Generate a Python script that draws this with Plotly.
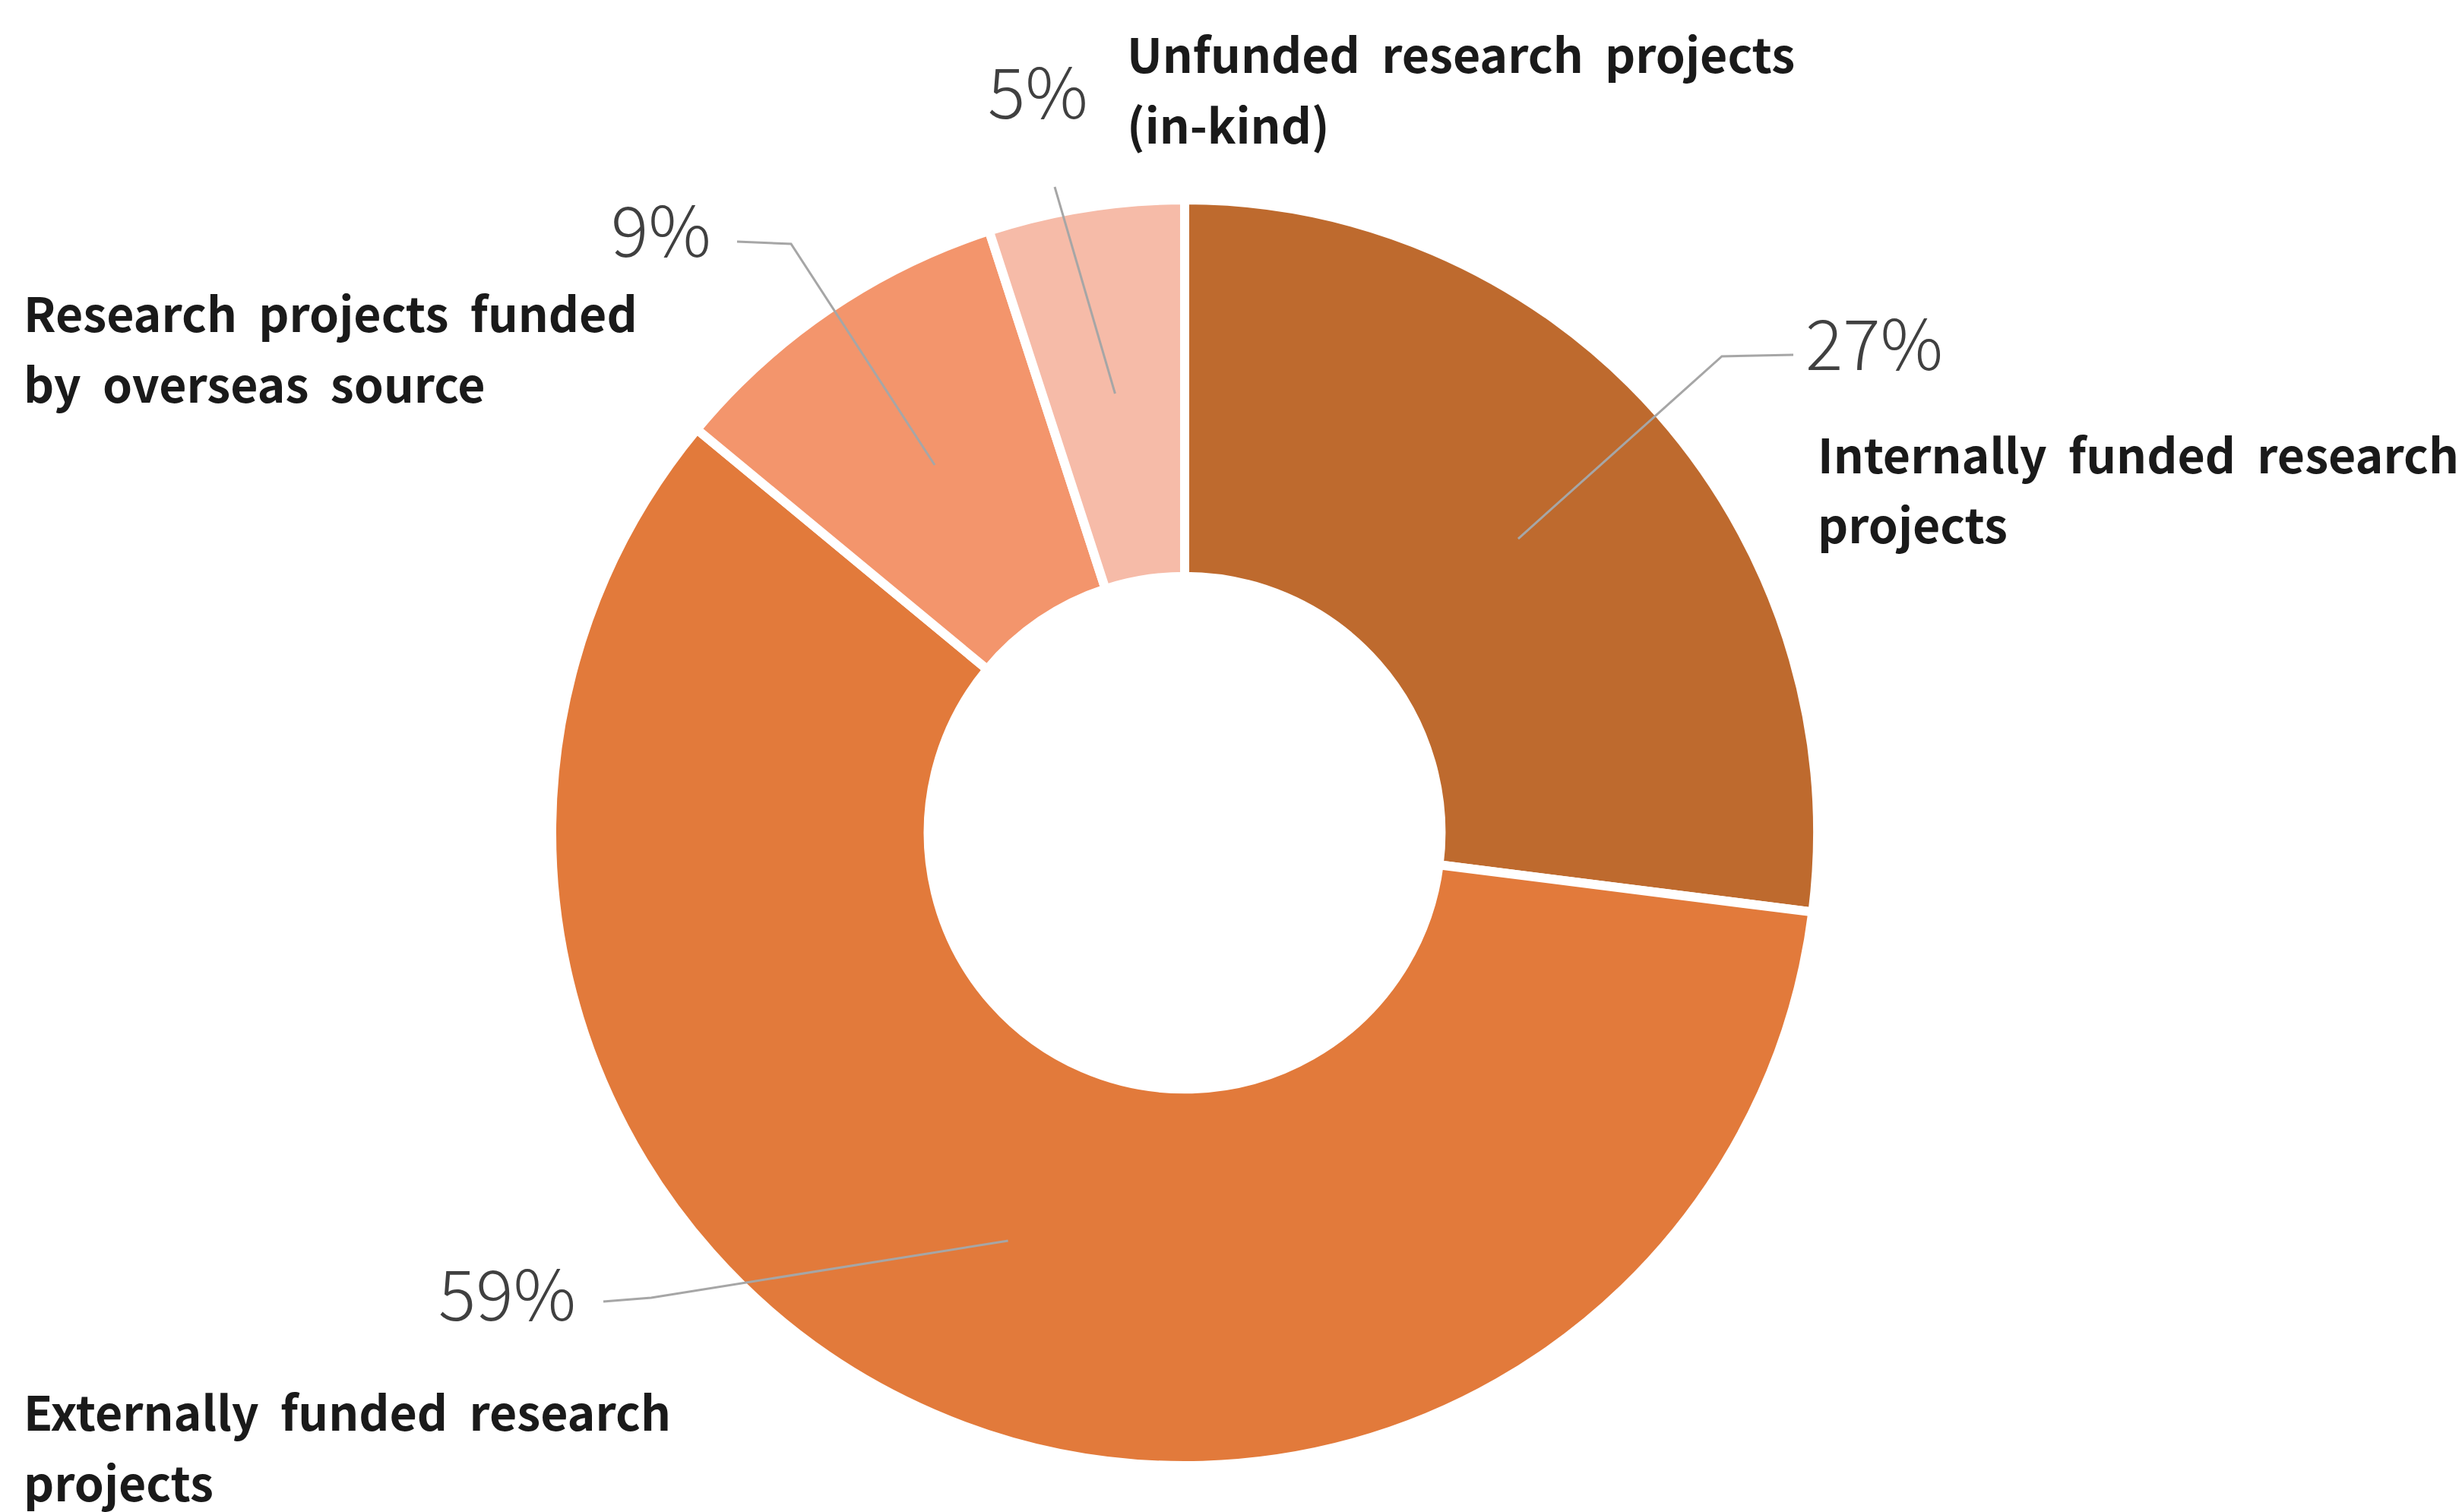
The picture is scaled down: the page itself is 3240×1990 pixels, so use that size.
import math
import plotly.graph_objects as go

# ---- data ----
categories = [
    "Internally funded research projects",
    "Externally funded research projects",
    "Research projects funded by overseas source",
    "Unfunded research projects (in-kind)",
]
values = [27, 59, 9, 5]
pct_labels = ["27%", "59%", "9%", "5%"]
colors = ["#BE6A2E", "#E27A3B", "#F3956C", "#F6BBA8"]
name_lines = [
    ["Internally funded research", "projects"],
    ["Externally funded research", "projects"],
    ["Research projects funded", "by overseas source"],
    ["Unfunded research projects", "(in-kind)"],
]

# ---- layout constants (pixels) ----
W, H = 3240, 1990
CX, CY, R = 1551, 1088, 833
HOLE = 0.405

def px(x):
    return x / W

def py(y):
    return 1 - y / H

SP = "\u00a0\u00a0"

# label positions: (x, [line y's])
name_pos = [(2382, [587, 680]), (21, [1847, 1940]), (21, [401, 494]), (1473, [60, 153])]
pct_pos = [(2366, 439, "left"), (752, 1689, "right"), (930, 290, "right"), (1426, 108, "right")]
# leader line elbows / ends (pixels)
leader_pts = [
    [(2258, 461), (2352, 459)],
    [(849, 1700), (786, 1705)],
    [(1033, 313), (962, 310)],
    [(1380, 238)],
]

fig = go.Figure(
    go.Pie(
        labels=categories,
        values=values,
        hole=HOLE,
        sort=False,
        direction="clockwise",
        rotation=0,
        textinfo="none",
        hoverinfo="label+percent",
        marker=dict(colors=colors, line=dict(color="white", width=12)),
        domain=dict(x=[px(CX - R), px(CX + R)], y=[py(CY + R), py(CY - R)]),
        showlegend=False,
    )
)

annotations = []
shapes = []
total = sum(values)
cum = 0
rmid = (R + R * HOLE) / 2
for i, v in enumerate(values):
    mid = (cum + v / 2) / total * 2 * math.pi
    cum += v
    sx = CX + rmid * math.sin(mid)
    sy = CY - rmid * math.cos(mid)
    pts = [(sx, sy)] + leader_pts[i]
    path = "M " + " L ".join(f"{px(x):.5f} {py(y):.5f}" for x, y in pts)
    shapes.append(dict(type="path", path=path, xref="paper", yref="paper",
                       line=dict(color="#A6A6A6", width=3)))
    x, ys = name_pos[i]
    for line, y in zip(name_lines[i], ys):
        annotations.append(dict(text=line.replace(" ", SP), x=px(x), y=py(y), xref="paper", yref="paper",
                                xanchor="left", yanchor="middle", align="left", showarrow=False,
                                font=dict(family="Noto Sans CJK KR", size=62.5, color="#1A1A1A", weight="bold")))
    x, y, xa = pct_pos[i]
    annotations.append(dict(text=pct_labels[i], x=px(x), y=py(y), xref="paper", yref="paper",
                            xanchor=xa, yanchor="middle", showarrow=False,
                            font=dict(family="Noto Sans CJK KR", size=92, color="#404040", weight=300)))

fig.update_layout(
    width=W, height=H,
    margin=dict(l=0, r=0, t=0, b=0),
    paper_bgcolor="white", plot_bgcolor="white",
    annotations=annotations, shapes=shapes,
)

fig.write_html("out.html")
